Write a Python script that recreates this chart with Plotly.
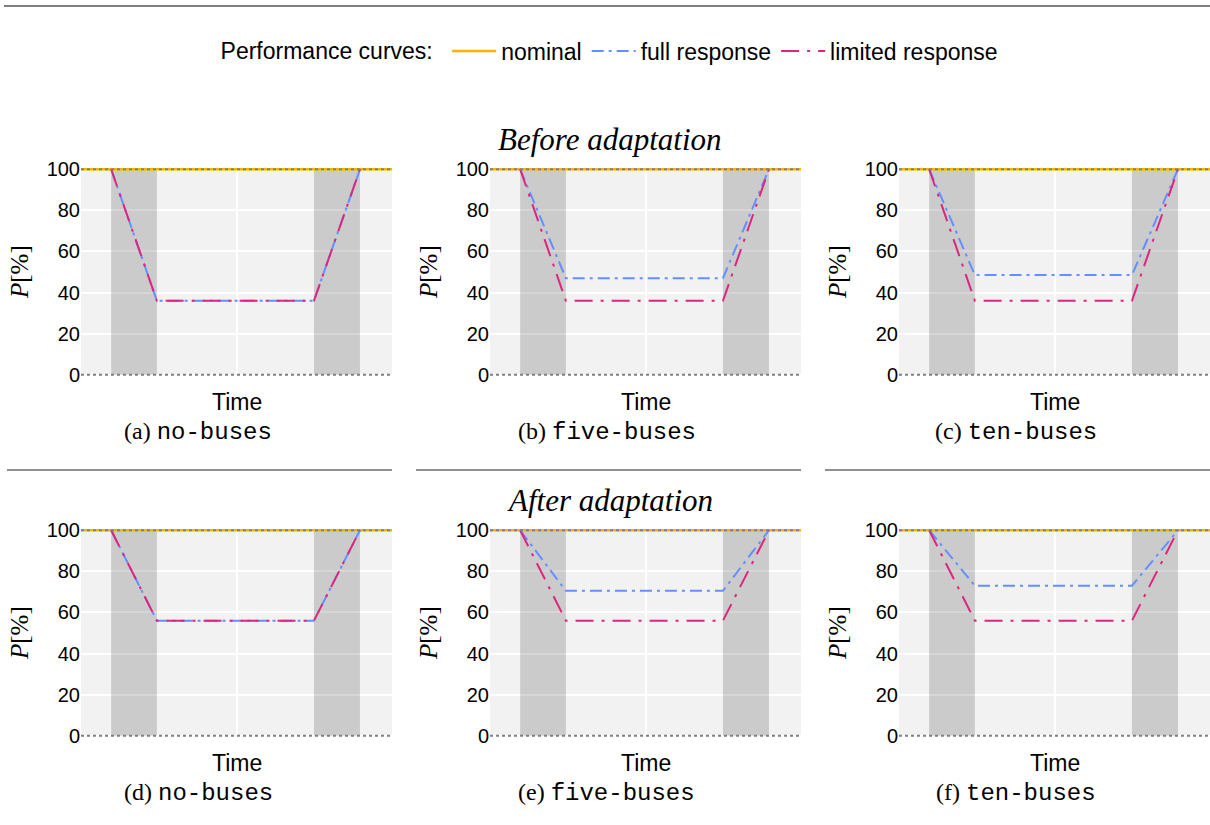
import plotly.graph_objects as go

# ---- data -----------------------------------------------------------------
scenarios = ["no-buses", "five-buses", "ten-buses",
             "no-buses", "five-buses", "ten-buses"]
panel_tags = ["(a)", "(b)", "(c)", "(d)", "(e)", "(f)"]
row_titles = ["Before adaptation", "After adaptation"]

# time axis: full span and the four knots of a response curve
# (disruption onset, floor reached, recovery onset, recovered)
time_span = [0, 100]
response_knots = [9.7, 24.4, 74.9, 89.7]
disruption_window = [9.7, 24.4]
recovery_window = [74.9, 89.7]

nominal_level = 100
full_floor = [36, 47, 48.5, 56, 70.5, 73]
limited_floor = [36, 36, 36, 56, 56, 56]

y_ticks = [0, 20, 40, 60, 80, 100]

# ---- styling --------------------------------------------------------------
W, H = 1210, 825
SANS = "Liberation Sans"
SERIF = "Liberation Serif"
MONO = "Liberation Mono"
C_NOMINAL = "#FFB000"
C_FULL = "#648FFF"
C_LIMITED = "#DC267F"
C_REF = "#808080"


def px(x):
    return x / W


def py(y):
    return 1 - y / H


col_px = [(81, 392), (490, 801), (899, 1210)]
row_px = [(168, 376), (529, 737)]
caption_cx = [198, 607, 1016]
caption_cy = [432, 793]
time_cy = [402, 763]
rule_y = 470
row_title_cy = [140, 500]

fig = go.Figure()
shapes = []
annotations = []


def curve(floor):
    return [nominal_level, floor, floor, nominal_level]


for i in range(6):
    r, c = divmod(i, 3)
    n = i + 1
    sfx = "" if n == 1 else str(n)
    xa, ya = "x" + sfx, "y" + sfx
    first = i == 0

    fig.add_trace(go.Scatter(
        x=time_span, y=[nominal_level, nominal_level],
        mode="lines", line=dict(color=C_NOMINAL, width=2.5),
        name="nominal", legendgroup="nominal", showlegend=first,
        xaxis=xa, yaxis=ya, hoverinfo="skip"))
    fig.add_trace(go.Scatter(
        x=response_knots, y=curve(full_floor[i]),
        mode="lines", line=dict(color=C_FULL, width=2, dash="12px,5px,3px,5px"),
        name="full response", legendgroup="full", showlegend=first,
        xaxis=xa, yaxis=ya, hoverinfo="skip"))
    fig.add_trace(go.Scatter(
        x=response_knots, y=curve(limited_floor[i]),
        mode="lines", line=dict(color=C_LIMITED, width=2, dash="18px,8px,3px,8px"),
        name="limited response", legendgroup="limited", showlegend=first,
        xaxis=xa, yaxis=ya, hoverinfo="skip"))
    # dotted reference levels at 0 % and 100 %
    for lvl in (y_ticks[0], y_ticks[-1]):
        fig.add_trace(go.Scatter(
            x=time_span, y=[lvl, lvl],
            mode="lines", line=dict(color=C_REF, width=2, dash="3px,3px"),
            showlegend=False, xaxis=xa, yaxis=ya, hoverinfo="skip"))

    # shaded disruption / recovery phases
    for win in (disruption_window, recovery_window):
        shapes.append(dict(type="rect", xref=xa, yref=ya,
                           x0=win[0], x1=win[1], y0=y_ticks[0], y1=y_ticks[-1],
                           fillcolor="rgba(0,0,0,0.16)", line=dict(width=0),
                           layer="between"))

    fig.update_layout({
        "xaxis" + sfx: dict(
            domain=[px(col_px[c][0]), px(col_px[c][1])], anchor=ya,
            range=time_span, tickvals=[50], showticklabels=False,
            showgrid=True, gridcolor="white", gridwidth=1.5,
            zeroline=False, showline=False, ticks="", fixedrange=True),
        "yaxis" + sfx: dict(
            domain=[py(row_px[r][1]), py(row_px[r][0])], anchor=xa,
            range=[-0.6, 100.6], tickvals=y_ticks,
            tickfont=dict(family=SANS, size=20, color="black"),
            showgrid=True, gridcolor="white", gridwidth=1.5,
            zeroline=False, showline=False, ticks="",
            fixedrange=True),
    })

    x0, x1 = col_px[c]
    annotations.append(dict(
        text="Time", xref="paper", yref="paper",
        x=px((x0 + x1) / 2), y=py(time_cy[r]),
        xanchor="center", yanchor="middle", showarrow=False,
        font=dict(family=SANS, size=23, color="black")))
    annotations.append(dict(
        text="<i>P</i>[%]", xref="paper", yref="paper",
        x=px(x0 - 62), y=py((row_px[r][0] + row_px[r][1]) / 2),
        xanchor="center", yanchor="middle", textangle=-90, showarrow=False,
        font=dict(family=SERIF, size=25, color="black")))
    annotations.append(dict(
        text=f"{panel_tags[i]} <span style=\"font-family:'{MONO}'\">{scenarios[i]}</span>",
        xref="paper", yref="paper",
        x=px(caption_cx[c]), y=py(caption_cy[r]),
        xanchor="center", yanchor="middle", showarrow=False,
        font=dict(family=SERIF, size=24, color="black")))

for r, title in enumerate(row_titles):
    annotations.append(dict(
        text=f"<i>{title}</i>", xref="paper", yref="paper",
        x=px(610), y=py(row_title_cy[r]),
        xanchor="center", yanchor="middle", showarrow=False,
        font=dict(family=SERIF, size=31, color="black")))

# horizontal rules
shapes.append(dict(type="line", xref="paper", yref="paper",
                   x0=px(4), x1=1, y0=py(6), y1=py(6),
                   line=dict(color="black", width=1.2)))
for seg in [(7, 392), (416, 801), (825, 1210)]:
    shapes.append(dict(type="line", xref="paper", yref="paper",
                       x0=px(seg[0]), x1=px(seg[1]), y0=py(rule_y), y1=py(rule_y),
                       line=dict(color="#222222", width=1.2)))

fig.update_layout(
    width=W, height=H,
    margin=dict(l=0, r=0, t=0, b=0, autoexpand=False),
    paper_bgcolor="white",
    plot_bgcolor="#F2F2F2",
    shapes=shapes,
    annotations=annotations,
    showlegend=True,
    legend=dict(
        orientation="h", x=0.505, y=py(51), xanchor="center", yanchor="middle",
        title=dict(text="Performance curves: ", side="left",
                   font=dict(family=SANS, size=23, color="black")),
        font=dict(family=SANS, size=23, color="black"),
        bgcolor="rgba(0,0,0,0)", itemwidth=44, tracegroupgap=0,
    ),
)

fig.write_html("out.html")
